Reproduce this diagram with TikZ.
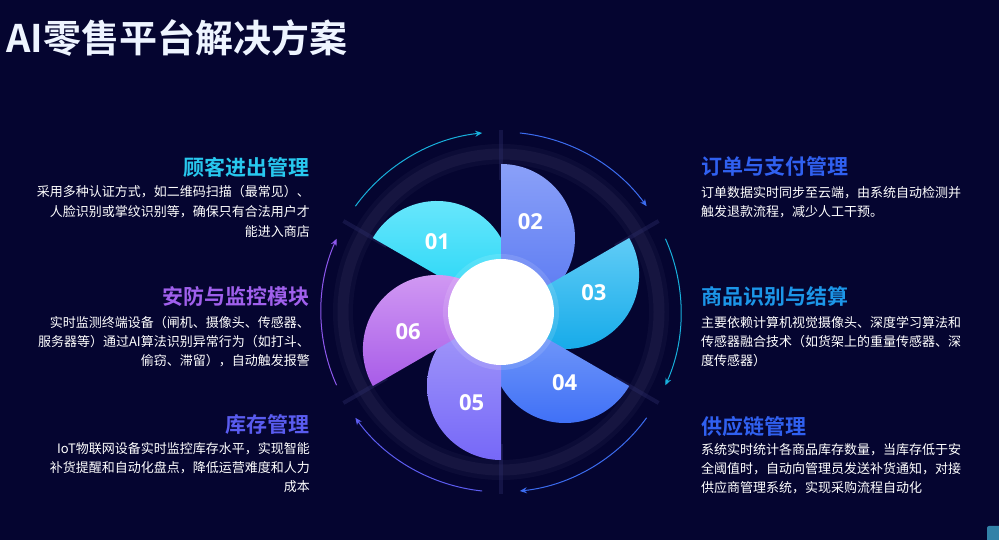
\documentclass[tikz,border=0pt]{standalone}
\usepackage{fontspec}
\usetikzlibrary{arrows.meta,calc}
\newfontfamily\cjk{Noto Sans CJK SC}[BoldFont={Noto Sans CJK SC Bold}]
\newfontfamily\numfont{Open Sans}
\definecolor{bg}{RGB}{5,5,48}
\definecolor{ringc}{RGB}{22,21,64}
\definecolor{divc}{RGB}{44,44,104}
\definecolor{pat}{RGB}{110,232,252}\definecolor{pab}{RGB}{30,212,246}
\definecolor{pbt}{RGB}{138,160,248}\definecolor{pbb}{RGB}{88,120,242}
\definecolor{pct}{RGB}{96,204,246}\definecolor{pcb}{RGB}{16,168,232}
\definecolor{pdt}{RGB}{124,160,250}\definecolor{pdb}{RGB}{58,108,246}
\definecolor{pet}{RGB}{166,156,250}\definecolor{peb}{RGB}{118,104,248}
\definecolor{pft}{RGB}{212,158,244}\definecolor{pfb}{RGB}{168,92,232}
\definecolor{hcyan}{RGB}{40,200,238}
\definecolor{hpurple}{RGB}{160,96,236}
\definecolor{hindigo}{RGB}{90,92,240}
\definecolor{hblue}{RGB}{48,96,240}
\definecolor{hsky}{RGB}{28,150,232}
\definecolor{acyan}{RGB}{24,176,220}
\definecolor{ablue}{RGB}{60,108,240}
\definecolor{aindigo}{RGB}{92,92,240}
\definecolor{apurple}{RGB}{142,88,238}
\definecolor{titlec}{RGB}{238,244,255}
\definecolor{cornerc}{RGB}{50,130,168}
\begin{document}
\begin{tikzpicture}[x=1pt,y=1pt,
  body/.style={font=\cjk\fontsize{13}{16}\selectfont, text=white, inner sep=0pt},
  lbody/.style={body, anchor=base east},
  rbody/.style={body, anchor=base west},
  head/.style={font=\cjk\bfseries\fontsize{21}{24}\selectfont, inner sep=0pt},
  lhead/.style={head, anchor=base east},
  rhead/.style={head, anchor=base west},
  numlab/.style={font=\numfont\bfseries\fontsize{22}{24}\selectfont, text=white, inner sep=0pt},
  orbit/.style={line width=1pt, -{Stealth[length=7pt,width=6pt]}},
  divider/.style={divc, line width=4pt, opacity=0.4}
]
\useasboundingbox (0,0) rectangle (999,540);
\fill[bg] (0,0) rectangle (999,540);

% title
\node[font=\cjk\bfseries\fontsize{38}{42}\selectfont, text=titlec, anchor=base west, inner sep=0pt] (title) at (6,487) {AI零售平台解决方案};

% wheel
\coordinate (C) at (501,228);
\draw[ringc, line width=20pt, opacity=0.45] (C) circle[radius=158];
\draw[ringc, line width=11pt] (C) circle[radius=158];
\foreach \a in {90,30,-30,-90,-150,150}
  \draw[divider] (C) ++(\a:132) -- ++(\a:50);

% orbit arrows
\draw[orbit, acyan] (C) ++(144:180) arc[start angle=144, end angle=96, radius=180];
\draw[orbit, ablue] (C) ++(84:180) arc[start angle=84, end angle=36, radius=180];
\draw[orbit, acyan] (C) ++(24:180) arc[start angle=24, end angle=-24, radius=180];
\draw[orbit, ablue] (C) ++(-36:180) arc[start angle=-36, end angle=-84, radius=180];
\draw[orbit, aindigo] (C) ++(-96:180) arc[start angle=-96, end angle=-144, radius=180];
\draw[orbit, apurple] (C) ++(204:180) arc[start angle=204, end angle=156, radius=180];

% petals
\shade[top color=pat, bottom color=pab] (C) ++(150:148) arc[start angle=150, end angle=-30, radius=74] -- cycle;
\shade[top color=pbt, bottom color=pbb] (C) ++(90:148) arc[start angle=90, end angle=-90, radius=74] -- cycle;
\shade[top color=pct, bottom color=pcb] (C) ++(30:148) arc[start angle=30, end angle=-150, radius=74] -- cycle;
\shade[top color=pdt, bottom color=pdb] (C) ++(-30:148) arc[start angle=-30, end angle=-210, radius=74] -- cycle;
\shade[top color=pet, bottom color=peb] (C) ++(-90:148) arc[start angle=-90, end angle=-270, radius=74] -- cycle;
\shade[top color=pft, bottom color=pfb] (C) ++(210:148) arc[start angle=210, end angle=30, radius=74] -- cycle;

\fill[white, opacity=0.12] (C) circle[radius=58];
\node[circle, fill=white, minimum size=106pt, inner sep=0pt] (hub) at (C) {};

\node[numlab] (n1) at ($(C)+(132:95)$) {01};
\node[numlab] (n2) at ($(C)+(72:95)$) {02};
\node[numlab] (n3) at ($(C)+(12:95)$) {03};
\node[numlab] (n4) at ($(C)+(-48:95)$) {04};
\node[numlab] (n5) at ($(C)+(-108:95)$) {05};
\node[numlab] (n6) at ($(C)+(192:95)$) {06};

% left blocks
\node[lhead, text=hcyan] (h1) at (310,364) {顾客进出管理};
\node[lbody] (b1a) at (310,343) {采用多种认证方式，如二维码扫描（最常见）、};
\node[lbody] (b1b) at (310,323) {人脸识别或掌纹识别等，确保只有合法用户才};
\node[lbody] (b1c) at (310,303) {能进入商店};

\node[lhead, text=hpurple] (h6) at (310,235) {安防与监控模块};
\node[lbody] (b6a) at (310,212) {实时监测终端设备（闸机、摄像头、传感器、};
\node[lbody] (b6b) at (310,193) {服务器等）通过AI算法识别异常行为（如打斗、};
\node[lbody] (b6c) at (310,174) {偷窃、滞留），自动触发报警};

\node[lhead, text=hindigo] (h5) at (310,107) {库存管理};
\node[lbody] (b5a) at (310,86) {IoT物联网设备实时监控库存水平，实现智能};
\node[lbody] (b5b) at (310,67) {补货提醒和自动化盘点，降低运营难度和人力};
\node[lbody] (b5c) at (310,48) {成本};

% right blocks
\node[rhead, text=hblue] (h2) at (701,365) {订单与支付管理};
\node[rbody] (b2a) at (701,342) {订单数据实时同步至云端，由系统自动检测并};
\node[rbody] (b2b) at (701,323) {触发退款流程，减少人工干预。};

\node[rhead, text=hsky] (h3) at (701,235) {商品识别与结算};
\node[rbody] (b3a) at (701,212) {主要依赖计算机视觉摄像头、深度学习算法和};
\node[rbody] (b3b) at (701,193) {传感器融合技术（如货架上的重量传感器、深};
\node[rbody] (b3c) at (701,174) {度传感器）};

\node[rhead, text=hblue] (h4) at (701,105) {供应链管理};
\node[rbody] (b4a) at (701,85) {系统实时统计各商品库存数量，当库存低于安};
\node[rbody] (b4b) at (701,66) {全阈值时，自动向管理员发送补货通知，对接};
\node[rbody] (b4c) at (701,47) {供应商管理系统，实现采购流程自动化};

% corner mark
\fill[cornerc, rounded corners=2pt] (987,-3) rectangle (1002,14);
\end{tikzpicture}
\end{document}
